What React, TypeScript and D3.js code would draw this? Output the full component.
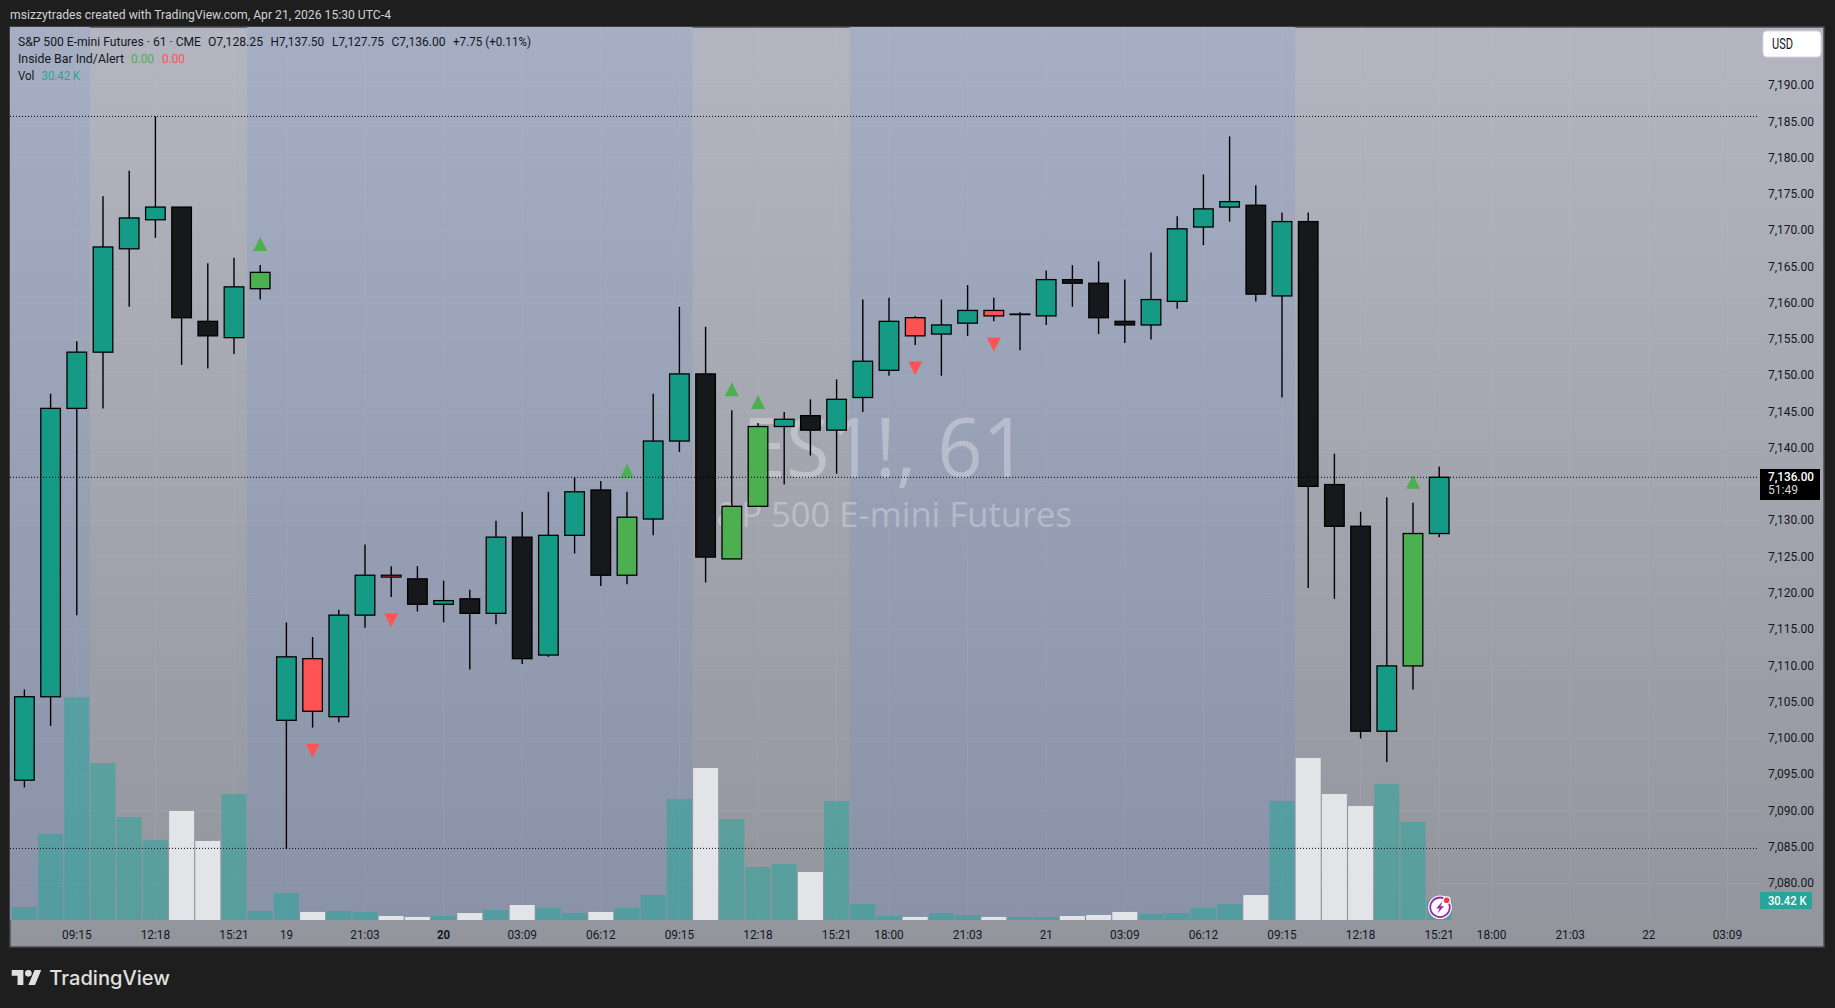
import { useEffect, useRef } from "react";
import * as d3 from "d3";

const opens = [7094.25, 7105.75, 7145.5, 7153.25, 7167.5, 7171.5, 7173.25, 7157.5, 7155.25, 7162, 7102.5, 7111, 7103, 7117, 7122.5, 7122, 7118.5, 7119.25, 7117.25, 7127.75, 7111.5, 7128, 7134.25, 7122.5, 7130.25, 7141, 7150.25, 7124.75, 7132, 7143, 7144.5, 7142.5, 7147, 7150.75, 7158, 7155.75, 7157.25, 7159, 7158.5, 7158.25, 7163.25, 7162.75, 7157.5, 7157, 7160.25, 7170.5, 7173.25, 7173.5, 7161, 7171.25, 7135, 7129.25, 7101, 7110, 7128.25];
const highs = [7106.75, 7147.5, 7154.75, 7174.75, 7178.25, 7185.75, 7173.25, 7165.5, 7166.25, 7165.25, 7116, 7114, 7117.75, 7126.75, 7123.75, 7123.75, 7121.75, 7120.5, 7130, 7131.25, 7134, 7136, 7135.5, 7134, 7147.5, 7159.5, 7156.75, 7145.25, 7143.5, 7145, 7146.75, 7149.5, 7160.5, 7160.75, 7158.25, 7160.5, 7162.5, 7160.75, 7158.75, 7164.5, 7165.25, 7165.75, 7163.25, 7167, 7172, 7177.75, 7183, 7176.25, 7172.5, 7172.5, 7139.25, 7131.25, 7133.25, 7132.5, 7137.5];
const lows = [7093.25, 7101.75, 7117, 7145.5, 7159.5, 7169, 7151.5, 7151, 7153, 7160.5, 7084.75, 7101.5, 7102.25, 7115.25, 7119.5, 7117.5, 7116, 7109.5, 7115.75, 7110.25, 7111.25, 7125.5, 7121, 7121.25, 7128, 7139.5, 7121.5, 7124.75, 7132, 7135, 7139, 7136.5, 7145, 7150, 7154.25, 7150, 7155.5, 7157.5, 7153.5, 7157, 7159.5, 7155.75, 7154.5, 7155, 7159.25, 7168, 7171.25, 7160.25, 7147, 7120.75, 7119.25, 7100, 7096.75, 7106.75, 7127.75];
const closes = [7105.75, 7145.5, 7153.25, 7167.75, 7171.75, 7173.25, 7158, 7155.5, 7162.25, 7164.25, 7111.25, 7103.75, 7117, 7122.5, 7122.25, 7118.5, 7119, 7117.25, 7127.75, 7111, 7128, 7134, 7122.5, 7130.5, 7141, 7150.25, 7125, 7132, 7143, 7144, 7142.5, 7146.75, 7152, 7157.5, 7155.5, 7157, 7159, 7158.25, 7158.5, 7163.25, 7162.75, 7158, 7157, 7160.5, 7170.25, 7173, 7174, 7161.25, 7171.25, 7134.75, 7129.25, 7101, 7110, 7128.25, 7136];
const volumes = [19.8, 130.8, 338.7, 238.8, 156.7, 121.7, 165.8, 120.2, 191.6, 13.7, 41, 12.2, 13.7, 12.2, 6.1, 4.6, 6.1, 10.6, 15.2, 22.8, 18.3, 10.6, 12.2, 18.3, 38, 184, 231.2, 153.6, 80.6, 85.2, 73, 181, 24.3, 6.1, 4.6, 10.6, 7.6, 4.6, 4.6, 4.6, 6.1, 7.6, 12.2, 9.1, 10.6, 18.3, 24.3, 38, 181, 246.4, 191.6, 173.4, 206.9, 149, 30.42];

// inside bar signals: bar index, painted green / red with a triangle
const insideUp = [9, 23, 27, 28, 53];
const insideDown = [11, 14, 34, 37];

// bar index ranges of the blue (non regular) sessions
const blueSessions = [[-1, 2.5], [8.5, 25.5], [31.5, 48.5]];
const priceLevels = [7185.75, 7136, 7084.85];

const priceTicks = [7190, 7185, 7180, 7175, 7170, 7165, 7160, 7155, 7150, 7145, 7140, 7130, 7125, 7120, 7115, 7110, 7105, 7100, 7095, 7090, 7085, 7080];
const gridPrices = [...priceTicks, 7135];
const timeIndexes = [2, 5, 8, 10, 13, 16, 19, 22, 25, 28, 31, 33, 36, 39, 42, 45, 48, 51, 54, 56, 59, 62, 65];
const timeLabels = ["09:15", "12:18", "15:21", "19", "21:03", "20", "03:09", "06:12", "09:15", "12:18", "15:21", "18:00", "21:03", "21", "03:09", "06:12", "09:15", "12:18", "15:21", "18:00", "21:03", "22", "03:09"];

const W = 1835;
const H = 1008;
const FONT = "Roboto, sans-serif";
const INK = "#131722";
const TEAL = "#159b85";
const BLACK = "#17181b";
const RED = "#ff5252";
const GREEN = "#4caf50";

export default function App() {
  const svgRef = useRef<SVGSVGElement>(null);

  useEffect(() => {
    if (!svgRef.current) return;
    const svg = d3.select(svgRef.current);
    svg.selectAll("*").remove();

    const left = 10;
    const right = 1824;
    const top = 27;
    const bottom = 947;
    const paneBottom = 920;
    const paneRight = 1757;

    const x = d3.scaleLinear().domain([0, 54]).range([24.4, 1439.2]);
    const y = d3.scaleLinear().domain([7080, 7190]).range([883.55, 85.56]);
    const v = d3.scaleLinear().domain([0, 338.7]).range([paneBottom, 697.3]);

    const defs = svg.append("defs");
    const grad = (id: string, c0: string, c1: string, y2: number) => {
      const g = defs
        .append("linearGradient")
        .attr("id", id)
        .attr("gradientUnits", "userSpaceOnUse")
        .attr("x1", 0)
        .attr("x2", 0)
        .attr("y1", top)
        .attr("y2", y2);
      g.append("stop").attr("offset", 0).attr("stop-color", c0);
      g.append("stop").attr("offset", 1).attr("stop-color", c1);
    };
    grad("greyBg", "#b3b5c0", "#93959d", bottom);
    grad("blueBg", "#a6aec3", "#8a92a8", paneBottom);

    // page and frame
    svg.append("rect").attr("width", W).attr("height", H).attr("fill", "#1e1e1e");
    svg
      .append("rect")
      .attr("x", left)
      .attr("y", top)
      .attr("width", right - left)
      .attr("height", bottom - top)
      .attr("fill", "url(#greyBg)")
      .attr("stroke", "#4b4c50")
      .attr("stroke-width", 1.5);

    // session bands
    svg
      .append("g")
      .selectAll("rect")
      .data(blueSessions)
      .join("rect")
      .attr("x", (d) => Math.max(x(d[0]), left))
      .attr("y", top)
      .attr("width", (d) => x(d[1]) - Math.max(x(d[0]), left))
      .attr("height", paneBottom - top)
      .attr("fill", "url(#blueBg)");

    // grid
    const grid = svg
      .append("g")
      .attr("stroke", "#fff")
      .attr("stroke-opacity", 0.06);
    grid
      .selectAll("line.h")
      .data(gridPrices)
      .join("line")
      .attr("class", "h")
      .attr("x1", left)
      .attr("x2", 1760)
      .attr("y1", (d) => y(d))
      .attr("y2", (d) => y(d));
    grid
      .selectAll("line.v")
      .data(timeIndexes)
      .join("line")
      .attr("class", "v")
      .attr("x1", (d) => x(d))
      .attr("x2", (d) => x(d))
      .attr("y1", top)
      .attr("y2", paneBottom);

    // watermark
    const wm = svg.append("g").attr("fill", "#fff").attr("fill-opacity", 0.3).attr("font-family", "'Open Sans', sans-serif");
    wm.append("text")
      .attr("x", 742)
      .attr("y", 477)
      .attr("font-size", 82)
      .attr("textLength", 286)
      .attr("lengthAdjust", "spacingAndGlyphs")
      .text("ES1!, 61");
    wm.append("text")
      .attr("x", 697)
      .attr("y", 526.7)
      .attr("font-size", 34)
      .attr("textLength", 375)
      .attr("lengthAdjust", "spacingAndGlyphs")
      .text("S&P 500 E-mini Futures");

    // volume
    svg
      .append("g")
      .selectAll("rect")
      .data(volumes)
      .join("rect")
      .attr("x", (_, i) => x(i) - 12.5)
      .attr("y", (d) => v(d))
      .attr("width", 25)
      .attr("height", (d) => paneBottom - v(d))
      .attr("fill", (_, i) => (closes[i] >= opens[i] ? "#26a69a" : "#e3e4e7"))
      .attr("fill-opacity", (_, i) => (closes[i] >= opens[i] ? 0.55 : 1));

    // candles
    const bodyColor = (i: number) => {
      if (insideUp.includes(i)) return GREEN;
      if (insideDown.includes(i)) return RED;
      return closes[i] >= opens[i] ? TEAL : BLACK;
    };
    const candles = svg
      .append("g")
      .selectAll("g")
      .data(opens)
      .join("g");
    candles
      .append("line")
      .attr("x1", (_, i) => x(i))
      .attr("x2", (_, i) => x(i))
      .attr("y1", (_, i) => y(highs[i]))
      .attr("y2", (_, i) => y(lows[i]))
      .attr("stroke", "#000")
      .attr("stroke-width", 1.4);
    candles
      .append("rect")
      .attr("x", (_, i) => x(i) - 9.8)
      .attr("y", (d, i) => y(Math.max(d, closes[i])))
      .attr("width", 19.6)
      .attr("height", (d, i) => Math.max(Math.abs(y(d) - y(closes[i])), 0.5))
      .attr("fill", (_, i) => bodyColor(i))
      .attr("stroke", "#000")
      .attr("stroke-width", 1.3);

    // inside bar triangles
    svg
      .append("g")
      .selectAll("path")
      .data(insideUp)
      .join("path")
      .attr("fill", GREEN)
      .attr("d", (i) => {
        const cx = x(i);
        const py = y(highs[i]);
        return `M${cx},${py - 28}L${cx + 7},${py - 14}L${cx - 7},${py - 14}Z`;
      });
    svg
      .append("g")
      .selectAll("path")
      .data(insideDown)
      .join("path")
      .attr("fill", RED)
      .attr("d", (i) => {
        const cx = x(i);
        const py = y(lows[i]);
        return `M${cx - 7},${py + 16.5}L${cx + 7},${py + 16.5}L${cx},${py + 30}Z`;
      });

    // dotted price levels
    svg
      .append("g")
      .selectAll("line")
      .data(priceLevels)
      .join("line")
      .attr("x1", left)
      .attr("x2", paneRight)
      .attr("y1", (d) => y(d))
      .attr("y2", (d) => y(d))
      .attr("stroke", "#000")
      .attr("stroke-dasharray", "1 2");

    // axes
    const priceAxis = svg
      .append("g")
      .attr("transform", "translate(1760,-1)")
      .call(
        d3
          .axisRight(y)
          .tickValues(priceTicks)
          .tickSize(0)
          .tickPadding(8)
          .tickFormat((d) => d3.format(",.2f")(d as number))
      );
    priceAxis.select(".domain").remove();
    priceAxis
      .selectAll("text")
      .attr("font-family", FONT)
      .attr("font-size", 13)
      .attr("fill", INK)
      .attr("textLength", 46)
      .attr("lengthAdjust", "spacingAndGlyphs");

    const timeAxis = svg
      .append("g")
      .attr("transform", `translate(-0.5,${paneBottom + 1})`)
      .call(
        d3
          .axisBottom(x)
          .tickValues(timeIndexes)
          .tickSize(0)
          .tickPadding(9)
          .tickFormat((_, i) => timeLabels[i])
      );
    timeAxis.select(".domain").remove();
    timeAxis
      .selectAll<SVGTextElement, number>("text")
      .attr("font-family", FONT)
      .attr("font-size", 13)
      .attr("fill", INK)
      .attr("font-weight", (_, i) => (timeLabels[i] === "20" ? 700 : 400))
      .attr("textLength", (_, i) => (timeLabels[i].length > 2 ? 29.5 : 13))
      .attr("lengthAdjust", "spacingAndGlyphs");

    // text helper, widths
    const label = (
      text: string,
      tx: number,
      ty: number,
      width: number,
      fill: string,
      size = 13,
      weight = 400
    ) =>
      svg
        .append("text")
        .attr("x", tx)
        .attr("y", ty)
        .attr("font-family", FONT)
        .attr("font-size", size)
        .attr("font-weight", weight)
        .attr("fill", fill)
        .attr("textLength", width)
        .attr("lengthAdjust", "spacingAndGlyphs")
        .text(text);

    label("msizzytrades created with TradingView.com, Apr 21, 2026 15:30 UTC-4", 10, 19, 381, "#d2d2d2");

    // legend
    label("S&P 500 E-mini Futures · 61 · CME", 18, 46, 183, INK, 12.5);
    label("O7,128.25", 208, 46, 55, INK);
    label("H7,137.50", 270.5, 46, 53.5, INK);
    label("L7,127.75", 332, 46, 52, INK);
    label("C7,136.00", 391.5, 46, 54, INK);
    label("+7.75 (+0.11%)", 453, 46, 78, INK);
    label("Inside Bar Ind/Alert", 18, 63, 106, INK);
    label("0.00", 131, 63, 23, GREEN);
    label("0.00", 162, 63, 23, RED);
    label("Vol", 18, 80, 16.4, INK);
    label("30.42 K", 41.5, 80, 38.5, "#26a69a");

    // USD button
    svg
      .append("rect")
      .attr("x", 1763)
      .attr("y", 31)
      .attr("width", 58)
      .attr("height", 26)
      .attr("rx", 4)
      .attr("fill", "#fff")
      .attr("stroke", "#d8d9de");
    label("USD", 1772, 49, 21, INK, 14);

    // last price and volume tags
    svg.append("rect").attr("x", 1760).attr("y", 469).attr("width", 60).attr("height", 31).attr("fill", "#000");
    label("7,136.00", 1768, 480.5, 46, "#fff", 13, 500);
    label("51:49", 1768, 494, 30, "#d5d5d5");
    svg.append("rect").attr("x", 1760).attr("y", 892).attr("width", 52).attr("height", 17).attr("fill", "#26a69a");
    label("30.42 K", 1768, 905, 38.5, "#fff", 13, 500);

    // lightning badge on the last bar
    const badge = svg.append("g").attr("transform", `translate(${x(54) + 0.8},907.3)`);
    badge.append("circle").attr("r", 11.8).attr("fill", "#fff");
    badge.append("circle").attr("r", 9.8).attr("fill", "#fff").attr("stroke", "#9c27b0").attr("stroke-width", 1.8);
    badge.append("path").attr("d", "M2.5,-6L-4,1.2H-0.5L-2.5,6.2L4,-1H0.5Z").attr("fill", "#9c27b0");
    badge.append("circle").attr("cx", 6.7).attr("cy", -7).attr("r", 4).attr("fill", "#fff");
    badge.append("circle").attr("cx", 6.7).attr("cy", -7).attr("r", 2.8).attr("fill", "#f23645");

    // TradingView logo
    const logo = svg.append("g").attr("transform", "translate(11.7,966.7) scale(0.833)").attr("fill", "#e0e0e0");
    logo.append("path").attr("d", "M14 22H7V11H0V4h14v18zM28 22h-8l7.5-18h8L28 22z");
    logo.append("circle").attr("cx", 20).attr("cy", 8).attr("r", 4);
    svg
      .append("text")
      .attr("x", 49.3)
      .attr("y", 984.7)
      .attr("font-family", "Inter, sans-serif")
      .attr("font-size", 20)
      .attr("font-weight", 500)
      .attr("fill", "#e0e0e0")
      .attr("textLength", 120.7)
      .attr("lengthAdjust", "spacingAndGlyphs")
      .text("TradingView");
  }, []);

  return (
    <svg
      ref={svgRef}
      width={W}
      height={H}
      style={{ position: "absolute", left: 0, top: 0, display: "block" }}
    ></svg>
  );
}
